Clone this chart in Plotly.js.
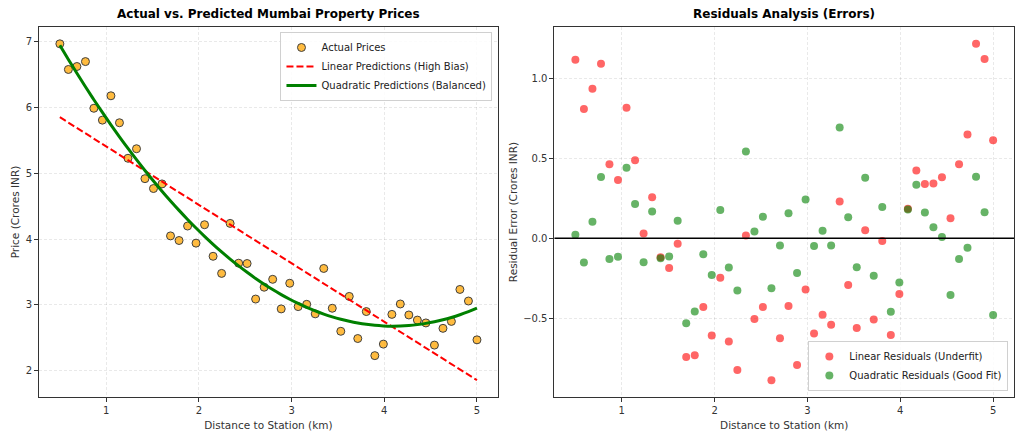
<!DOCTYPE html>
<html>
<head>
<meta charset="utf-8">
<script src="https://cdn.plot.ly/plotly-3.0.1.min.js"></script>
<style>
  html, body { margin: 0; padding: 0; background: #fff; }
  #chart { width: 1024px; height: 439px; }
</style>
</head>
<body>
<div id="chart"></div>
<script>
// Distance of each property from the nearest station (km)
const distanceKm = [
  0.500, 0.592, 0.684, 0.776, 0.867, 0.959, 1.051, 1.143, 1.235, 1.327,
  1.418, 1.510, 1.602, 1.694, 1.786, 1.878, 1.969, 2.061, 2.153, 2.245,
  2.337, 2.429, 2.520, 2.612, 2.704, 2.796, 2.888, 2.980, 3.071, 3.163,
  3.255, 3.347, 3.439, 3.531, 3.622, 3.714, 3.806, 3.898, 3.990, 4.082,
  4.173, 4.265, 4.357, 4.449, 4.541, 4.633, 4.724, 4.816, 4.908, 5.000
];

// Observed sale price (Crores INR)
const actualPrice = [
  6.970, 6.580, 6.625, 6.700, 5.990, 5.810, 6.180, 5.770, 5.230, 5.375,
  4.920, 4.770, 4.840, 4.050, 3.980, 4.200, 3.940, 4.220, 3.740, 3.480,
  4.240, 3.635, 3.630, 3.090, 3.270, 3.390, 2.940, 3.330, 2.975, 3.010,
  2.865, 3.555, 2.950, 2.600, 3.130, 2.490, 2.900, 2.230, 2.405, 2.857,
  3.015, 2.848, 2.770, 2.727, 2.390, 2.645, 2.750, 3.236, 3.060, 2.470
];

const xTicks = [1, 2, 3, 4, 5];

// ---- least-squares polynomial fit (normal equations) ----
function polyFit(xs, ys, degree) {
  const n = degree + 1;
  const A = Array.from({length: n}, () => new Array(n + 1).fill(0));
  for (let k = 0; k < xs.length; k++) {
    const pw = [];
    for (let p = 0; p <= 2 * degree; p++) pw.push(Math.pow(xs[k], p));
    for (let i = 0; i < n; i++) {
      for (let j = 0; j < n; j++) A[i][j] += pw[i + j];
      A[i][n] += ys[k] * pw[i];
    }
  }
  for (let c = 0; c < n; c++) {
    let piv = c;
    for (let r = c + 1; r < n; r++) if (Math.abs(A[r][c]) > Math.abs(A[piv][c])) piv = r;
    [A[c], A[piv]] = [A[piv], A[c]];
    for (let r = 0; r < n; r++) {
      if (r === c) continue;
      const f = A[r][c] / A[c][c];
      for (let j = c; j <= n; j++) A[r][j] -= f * A[c][j];
    }
  }
  const coef = [];
  for (let i = 0; i < n; i++) coef.push(A[i][n] / A[i][i]);
  return x => coef.reduce((s, c, p) => s + c * Math.pow(x, p), 0);
}

const linearModel = polyFit(distanceKm, actualPrice, 1);
const quadModel = polyFit(distanceKm, actualPrice, 2);
const linearPred = distanceKm.map(linearModel);
const quadPred = distanceKm.map(quadModel);
const linearResid = actualPrice.map((y, i) => y - linearPred[i]);
const quadResid = actualPrice.map((y, i) => y - quadPred[i]);

// padded range like a 5% axis margin
function padRange(arrays) {
  const all = [].concat(...arrays);
  const lo = Math.min(...all), hi = Math.max(...all);
  const pad = (hi - lo) * 0.05;
  return [lo - pad, hi + pad];
}

const xRange = padRange([distanceKm]);
const yPriceRange = padRange([actualPrice, linearPred, quadPred]);
const yResidRange = padRange([linearResid, quadResid]);

const FONT = 'DejaVu Sans, Verdana, sans-serif';

const traces = [
  {
    x: distanceKm, y: actualPrice, type: 'scatter', mode: 'markers',
    name: 'Actual Prices', xaxis: 'x', yaxis: 'y', legend: 'legend',
    marker: { color: 'orange', size: 8, opacity: 0.75, line: { color: 'black', width: 1 } }
  },
  {
    x: distanceKm, y: linearPred, type: 'scatter', mode: 'lines',
    name: 'Linear Predictions (High Bias)', xaxis: 'x', yaxis: 'y', legend: 'legend',
    line: { color: 'red', width: 2, dash: '7px,3px' }
  },
  {
    x: distanceKm, y: quadPred, type: 'scatter', mode: 'lines',
    name: 'Quadratic Predictions (Balanced)', xaxis: 'x', yaxis: 'y', legend: 'legend',
    line: { color: 'green', width: 3, shape: 'spline' }
  },
  {
    x: distanceKm, y: linearResid, type: 'scatter', mode: 'markers',
    name: 'Linear Residuals (Underfit)', xaxis: 'x2', yaxis: 'y2', legend: 'legend2',
    marker: { color: 'rgba(255,0,0,0.6)', size: 8 }
  },
  {
    x: distanceKm, y: quadResid, type: 'scatter', mode: 'markers',
    name: 'Quadratic Residuals (Good Fit)', xaxis: 'x2', yaxis: 'y2', legend: 'legend2',
    marker: { color: 'rgba(0,128,0,0.6)', size: 8 }
  }
];

const axisStyle = {
  showline: true, mirror: true, linecolor: '#333', linewidth: 1,
  ticks: 'outside', ticklen: 4, tickcolor: '#333', tickwidth: 1,
  showgrid: true, gridcolor: 'rgba(0,0,0,0.11)', griddash: '3px,2px', gridwidth: 0.8,
  zeroline: false, tickfont: { family: FONT, size: 10, color: '#333' }
};
const titleFont = { family: FONT, size: 10.5, color: '#333' };

const layout = {
  width: 1024, height: 439,
  margin: { l: 39, r: 10.3, t: 27.3, b: 42.3 },
  paper_bgcolor: '#fff', plot_bgcolor: '#fff',
  font: { family: FONT, color: '#222' },
  showlegend: true,
  xaxis: Object.assign({}, axisStyle, {
    domain: [0, 0.4706], range: xRange, tickvals: xTicks,
    title: { text: 'Distance to Station (km)', font: titleFont, standoff: 6 }
  }),
  yaxis: Object.assign({}, axisStyle, {
    domain: [0, 1], range: yPriceRange, dtick: 1,
    title: { text: 'Price (Crores INR)', font: titleFont, standoff: 3 }
  }),
  xaxis2: Object.assign({}, axisStyle, {
    domain: [0.5287, 1], range: xRange, tickvals: xTicks, anchor: 'y2',
    title: { text: 'Distance to Station (km)', font: titleFont, standoff: 6 }
  }),
  yaxis2: Object.assign({}, axisStyle, {
    domain: [0, 1], range: yResidRange, dtick: 0.5, tickformat: '.1f', anchor: 'x2',
    title: { text: 'Residual Error (Crores INR)', font: titleFont, standoff: 3 }
  }),
  legend: {
    x: 0.4651, y: 0.9865, xanchor: 'right', yanchor: 'top',
    bgcolor: 'rgba(255,255,255,0.85)', bordercolor: '#d0d0d0', borderwidth: 1,
    font: { family: FONT, size: 10, color: '#222' }, tracegroupgap: 0
  },
  legend2: {
    x: 0.9942, y: 0.0162, xanchor: 'right', yanchor: 'bottom',
    bgcolor: 'rgba(255,255,255,0.85)', bordercolor: '#d0d0d0', borderwidth: 1,
    font: { family: FONT, size: 10, color: '#222' }, tracegroupgap: 0
  },
  shapes: [
    { type: 'line', xref: 'x2 domain', x0: 0, x1: 1, yref: 'y2', y0: 0, y1: 0,
      line: { color: 'black', width: 1.5 } }
  ],
  annotations: [
    { text: '<b>Actual vs. Predicted Mumbai Property Prices</b>', xref: 'x domain', yref: 'paper',
      x: 0.5, y: 1, xanchor: 'center', yanchor: 'bottom', yshift: 4, showarrow: false,
      font: { family: FONT, size: 12, color: '#000' } },
    { text: '<b>Residuals Analysis (Errors)</b>', xref: 'x2 domain', yref: 'paper',
      x: 0.5, y: 1, xanchor: 'center', yanchor: 'bottom', yshift: 4, showarrow: false,
      font: { family: FONT, size: 12, color: '#000' } }
  ]
};

Plotly.newPlot('chart', traces, layout, { displayModeBar: false, staticPlot: true });
</script>
</body>
</html>
